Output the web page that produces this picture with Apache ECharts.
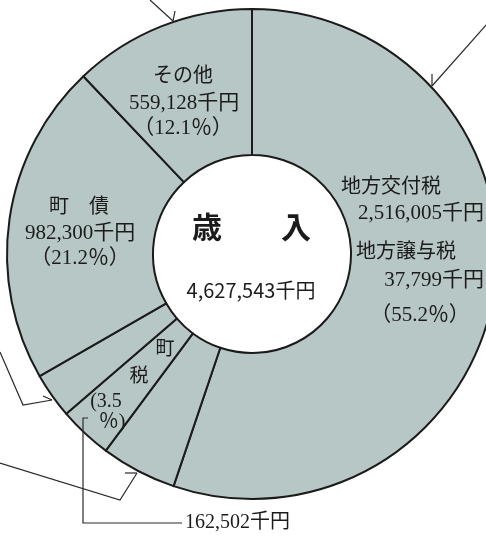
<!DOCTYPE html>
<html>
<head>
<meta charset="utf-8">
<script src="https://cdn.jsdelivr.net/npm/echarts@6/dist/echarts.min.js"></script>
<style>
html,body{margin:0;padding:0;background:#fff;}
#main{width:486px;height:536px;}
</style>
</head>
<body>
<div id="main"></div>
<script>
// 歳入内訳（千円） 真上から時計回り
var names = ['地方交付税・地方譲与税', '国庫支出金', '町税', '県支出金', '町債', 'その他'];
var values = [2553804, 231009, 162502, 138800, 982300, 559128];
var totalText = '4,627,543千円';

// ラベル文字
var kofuLines = ['地方交付税', '2,516,005千円', '地方譲与税', '37,799千円', '（55.2％）'];
var sonotaLines = ['その他', '559,128千円', '（12.1％）'];
var chosaiLines = ['町　債', '982,300千円', '（21.2％）'];
var chozeiLines = ['町', '税', '(3.5', '％)'];
var chozeiAmount = '162,502千円';

var chart = echarts.init(document.getElementById('main'));
var mincho = '"Liberation Serif", "Noto Sans CJK JP", serif';
var gothic = '"Noto Sans CJK JP", sans-serif';
var ink = '#1b1b1b';

function txt(t, x, y, size, align, fam, weight){
  return {
    type: 'text', z: 10,
    style: {
      text: t, x: x, y: y, fill: ink,
      font: (weight || 'normal') + ' ' + size + 'px ' + (fam || mincho),
      align: align || 'center', verticalAlign: 'middle'
    }
  };
}
function line(pts){
  return {
    type: 'polyline', z: 10,
    shape: {points: pts},
    style: {stroke: '#2a2a2a', lineWidth: 1.2, fill: null}
  };
}

var graphics = [
  // 中央
  txt('歳', 207, 227, 30, 'center', gothic, 'bold'),
  txt('入', 296, 227, 30, 'center', gothic, 'bold'),
  txt(totalText, 251, 290, 20, 'center', gothic),
  // 右
  txt(kofuLines[0], 391, 188, 20),
  txt(kofuLines[1], 484, 213, 21, 'right'),
  txt(kofuLines[2], 406, 253, 20),
  txt(kofuLines[3], 484, 280, 21, 'right'),
  txt(kofuLines[4], 420, 315, 21),
  // その他
  txt(sonotaLines[0], 183, 77, 20),
  txt(sonotaLines[1], 184, 103, 21),
  txt(sonotaLines[2], 183, 128, 21),
  // 町債
  txt(chosaiLines[0], 79, 208, 20),
  txt(chosaiLines[1], 80, 233, 21),
  txt(chosaiLines[2], 80, 258, 21),
  // 町税
  txt(chozeiLines[0], 165, 350, 19),
  txt(chozeiLines[1], 139, 377, 19),
  txt(chozeiLines[2], 106, 402, 20),
  txt(chozeiLines[3], 112, 423, 20),
  txt(chozeiAmount, 185, 523, 20, 'left'),
  // 引出線
  line([[150, 0], [173, 21]]), line([[175, 11], [173, 21]]),
  line([[487, 24], [432, 86]]), line([[432, 74], [432, 86]]),
  line([[0, 352], [23, 405], [52, 400]]), line([[43, 396], [52, 400]]),
  line([[0, 463], [120, 500], [137, 473]]), line([[125, 473], [137, 473]]),
  line([[88, 418], [83, 418], [83, 523], [182, 523]])
];

chart.setOption({
  animation: false,
  series: [{
    type: 'pie',
    center: [252, 254],
    radius: [99, 245],
    startAngle: 90,
    clockwise: true,
    silent: true,
    label: {show: false},
    labelLine: {show: false},
    itemStyle: {color: '#b6c7c5', borderColor: ink, borderWidth: 2},
    data: names.map(function(n, i){ return {name: n, value: values[i]}; })
  }],
  graphic: graphics
});
</script>
</body>
</html>
